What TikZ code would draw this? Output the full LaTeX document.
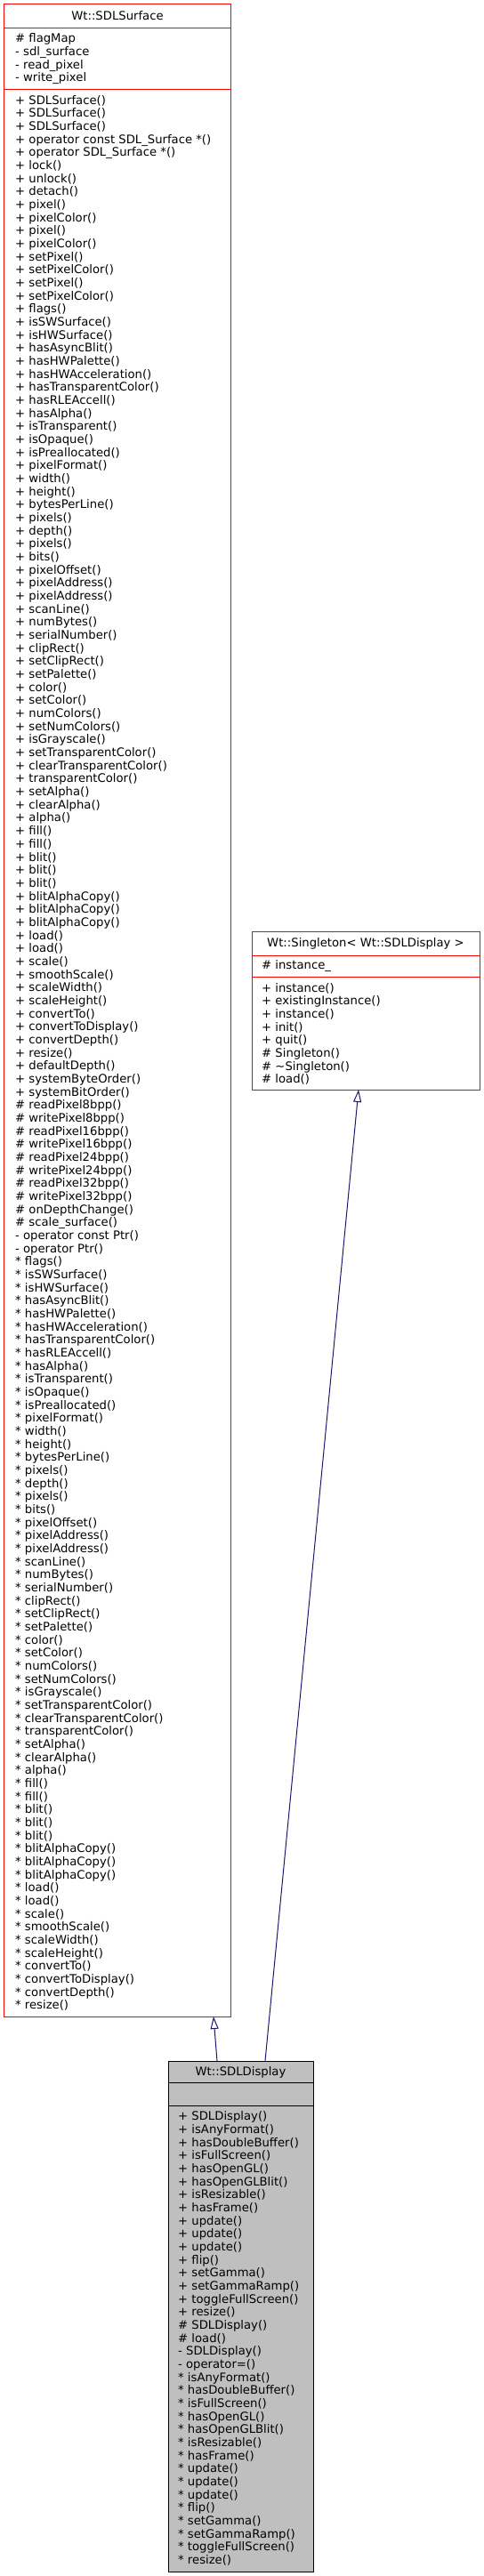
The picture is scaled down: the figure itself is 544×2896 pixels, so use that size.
\documentclass[tikz,border=0pt]{standalone}
\usepackage{fontspec}
\setmainfont{DejaVu Sans}
\usetikzlibrary{arrows.meta}
\definecolor{edgeblue}{HTML}{191970}
\definecolor{boxgray}{HTML}{BFBFBF}
\definecolor{boxred}{HTML}{FF0000}
\tikzset{
  classred/.style={rectangle, draw=boxred, fill=white, line width=1bp, inner sep=0pt, outer sep=0pt},
  classgray/.style={rectangle, draw=black, fill=boxgray, line width=1bp, inner sep=0pt, outer sep=0pt},
  sepred/.style={draw=boxred, line width=1bp},
  sepgray/.style={draw=black, line width=1bp},
  member/.style={anchor=base west, inner sep=0pt, font=\fontsize{13.2bp}{15bp}\selectfont},
  ctitle/.style={anchor=base, inner sep=0pt, font=\fontsize{13.2bp}{15bp}\selectfont},
  inherit/.style={draw=edgeblue, line width=1bp, -{Triangle[length=14bp, width=9bp, fill=white]}}
}
\begin{document}
\begin{tikzpicture}[x=1bp,y=-1bp]
\useasboundingbox (0,0) rectangle (544,2896);

% ---------------- Wt::SDLSurface ----------------
\node[classred, minimum width=254bp, minimum height=2262bp] (surface) at (132,1136) {};
\draw[sepred] (surface.west |- 0,31.7) -- (surface.east |- 0,31.7);
\draw[sepred] (surface.west |- 0,100) -- (surface.east |- 0,100);
\node[ctitle] (surfacetitle) at (132,22.8) {Wt::SDLSurface};
\foreach \t [count=\i from 0] in {\# flagMap, - sdl\_surface, - read\_pixel, - write\_pixel}
  \node[member] (sa\i) at (17,{47.8+\i*14.667}) {\t};
\foreach \t [count=\i from 0] in {
  + SDLSurface(), + SDLSurface(), + SDLSurface(),
  + operator const SDL\_Surface *(), + operator SDL\_Surface *(),
  + lock(), + unlock(), + detach(), + pixel(), + pixelColor(), + pixel(), + pixelColor(),
  + setPixel(), + setPixelColor(), + setPixel(), + setPixelColor(), + flags(),
  + isSWSurface(), + isHWSurface(), + hasAsyncBlit(), + hasHWPalette(),
  + hasHWAcceleration(), + hasTransparentColor(), + hasRLEAccell(), + hasAlpha(),
  + isTransparent(), + isOpaque(), + isPreallocated(), + pixelFormat(), + width(),
  + height(), + bytesPerLine(), + pixels(), + depth(), + pixels(), + bits(),
  + pixelOffset(), + pixelAddress(), + pixelAddress(), + scanLine(), + numBytes(),
  + serialNumber(), + clipRect(), + setClipRect(), + setPalette(), + color(),
  + setColor(), + numColors(), + setNumColors(), + isGrayscale(),
  + setTransparentColor(), + clearTransparentColor(), + transparentColor(),
  + setAlpha(), + clearAlpha(), + alpha(), + fill(), + fill(), + blit(), + blit(),
  + blit(), + blitAlphaCopy(), + blitAlphaCopy(), + blitAlphaCopy(), + load(),
  + load(), + scale(), + smoothScale(), + scaleWidth(), + scaleHeight(),
  + convertTo(), + convertToDisplay(), + convertDepth(), + resize(),
  + defaultDepth(), + systemByteOrder(), + systemBitOrder(),
  \# readPixel8bpp(), \# writePixel8bpp(), \# readPixel16bpp(), \# writePixel16bpp(),
  \# readPixel24bpp(), \# writePixel24bpp(), \# readPixel32bpp(), \# writePixel32bpp(),
  \# onDepthChange(), \# scale\_surface(), - operator const Ptr(), - operator Ptr(),
  * flags(), * isSWSurface(), * isHWSurface(), * hasAsyncBlit(), * hasHWPalette(),
  * hasHWAcceleration(), * hasTransparentColor(), * hasRLEAccell(), * hasAlpha(),
  * isTransparent(), * isOpaque(), * isPreallocated(), * pixelFormat(), * width(),
  * height(), * bytesPerLine(), * pixels(), * depth(), * pixels(), * bits(),
  * pixelOffset(), * pixelAddress(), * pixelAddress(), * scanLine(), * numBytes(),
  * serialNumber(), * clipRect(), * setClipRect(), * setPalette(), * color(),
  * setColor(), * numColors(), * setNumColors(), * isGrayscale(),
  * setTransparentColor(), * clearTransparentColor(), * transparentColor(),
  * setAlpha(), * clearAlpha(), * alpha(), * fill(), * fill(), * blit(), * blit(),
  * blit(), * blitAlphaCopy(), * blitAlphaCopy(), * blitAlphaCopy(), * load(),
  * load(), * scale(), * smoothScale(), * scaleWidth(), * scaleHeight(),
  * convertTo(), * convertToDisplay(), * convertDepth(), * resize()}
  \node[member] (sm\i) at (17,{117.3+\i*14.667}) {\t};

% ---------------- Wt::Singleton< Wt::SDLDisplay > ----------------
\node[classred, minimum width=256bp, minimum height=178bp] (singleton) at (411,1136) {};
\draw[sepred] (singleton.west |- 0,1074) -- (singleton.east |- 0,1074);
\draw[sepred] (singleton.west |- 0,1098) -- (singleton.east |- 0,1098);
\node[ctitle] (singletontitle) at (411,1064.5) {Wt::Singleton< Wt::SDLDisplay >};
\node[member] (ga0) at (294,1089.8) {\# instance\_};
\foreach \t [count=\i from 0] in {
  + instance(), + existingInstance(), + instance(), + init(), + quit(),
  \# Singleton(), \# \textasciitilde Singleton(), \# load()}
  \node[member] (gm\i) at (294,{1115.2+\i*14.667}) {\t};

% ---------------- Wt::SDLDisplay ----------------
\node[classgray, minimum width=163bp, minimum height=574bp] (display) at (270.5,2604) {};
\draw[sepgray] (display.west |- 0,2341.5) -- (display.east |- 0,2341.5);
\draw[sepgray] (display.west |- 0,2367) -- (display.east |- 0,2367);
\node[ctitle] (displaytitle) at (270.5,2333.3) {Wt::SDLDisplay};
\foreach \t [count=\i from 0] in {
  + SDLDisplay(), + isAnyFormat(), + hasDoubleBuffer(), + isFullScreen(),
  + hasOpenGL(), + hasOpenGLBlit(), + isResizable(), + hasFrame(), + update(),
  + update(), + update(), + flip(), + setGamma(), + setGammaRamp(),
  + toggleFullScreen(), + resize(), \# SDLDisplay(), \# load(), - SDLDisplay(),
  - operator=(), * isAnyFormat(), * hasDoubleBuffer(), * isFullScreen(),
  * hasOpenGL(), * hasOpenGLBlit(), * isResizable(), * hasFrame(), * update(),
  * update(), * update(), * flip(), * setGamma(), * setGammaRamp(),
  * toggleFullScreen(), * resize()}
  \node[member] (dm\i) at (200,{2383.8+\i*14.667}) {\t};

% ---------------- inheritance edges ----------------
\draw[inherit] ([xshift=-26.5bp]display.north) -- ([xshift=108bp]surface.south);
\draw[inherit] ([xshift=27.5bp]display.north) -- ([xshift=-8bp]singleton.south);
\end{tikzpicture}
\end{document}
